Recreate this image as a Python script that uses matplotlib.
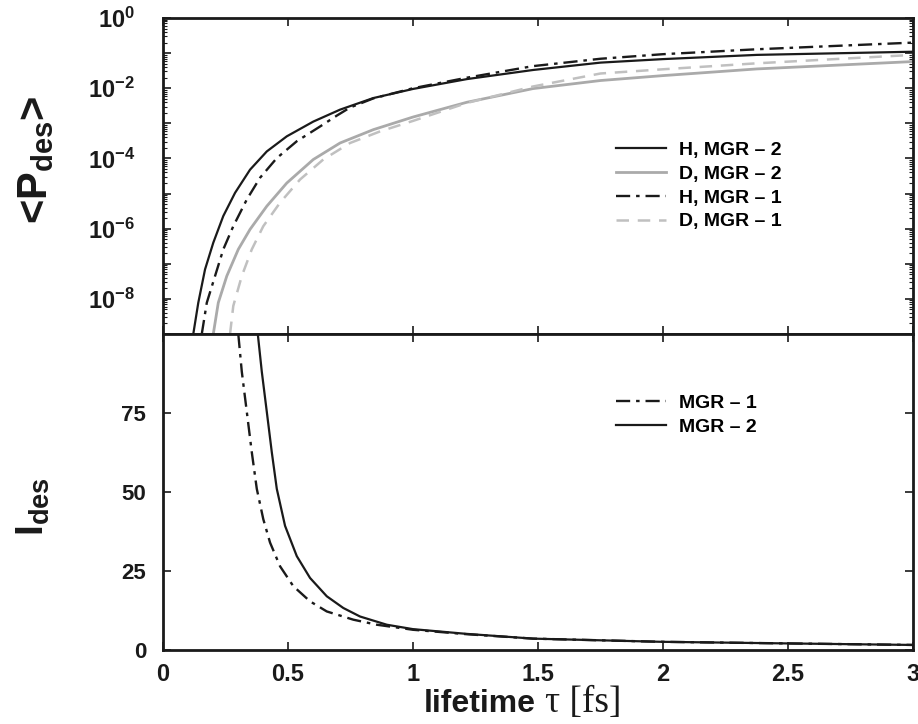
import numpy as np
import matplotlib.pyplot as plt
from matplotlib.ticker import FixedLocator, LogLocator, NullFormatter

plt.rcParams['font.family'] = ['Liberation Sans', 'DejaVu Sans']
plt.rcParams['mathtext.fontset'] = 'custom'
plt.rcParams['mathtext.rm'] = 'Liberation Sans'
plt.rcParams['mathtext.bf'] = 'Liberation Sans:bold'
plt.rcParams['mathtext.it'] = 'Liberation Sans:italic'

# top panel: <P_des> vs lifetime (log10 values)
tau_h2 = [0.121, 0.141, 0.168, 0.201, 0.241, 0.288, 0.348, 0.415, 0.495, 0.601, 0.708, 0.841,
          1.0, 1.215, 1.48, 1.75, 2.0, 2.375, 3.0]
logp_h2 = [-9.0, -8.11, -7.16, -6.40, -5.64, -4.98, -4.32, -3.80, -3.37, -2.95, -2.61, -2.28,
           -2.02, -1.74, -1.48, -1.27, -1.17, -1.05, -0.96]

tau_h1 = [0.155, 0.175, 0.208, 0.241, 0.281, 0.335, 0.388, 0.455, 0.535, 0.628, 0.695, 0.748, 0.841,
          1.0, 1.215, 1.48, 1.75, 2.0, 2.375, 3.0]
logp_h1 = [-9.0, -8.11, -7.35, -6.59, -5.93, -5.17, -4.55, -3.99, -3.51, -3.09, -2.78, -2.55, -2.29,
           -2.0, -1.70, -1.37, -1.16, -1.03, -0.89, -0.70]

tau_d2 = [0.201, 0.221, 0.255, 0.301, 0.348, 0.415, 0.495, 0.601, 0.708, 0.841,
          1.0, 1.215, 1.48, 1.75, 2.0, 2.375, 3.0]
logp_d2 = [-9.0, -8.11, -7.35, -6.59, -6.02, -5.36, -4.70, -4.03, -3.56, -3.18,
           -2.82, -2.40, -2.01, -1.78, -1.64, -1.45, -1.24]

tau_d1 = [0.268, 0.281, 0.315, 0.355, 0.401, 0.468, 0.548, 0.641, 0.748, 0.868,
          1.0, 1.215, 1.48, 1.75, 2.0, 2.375, 3.0]
logp_d1 = [-9.0, -8.2, -7.35, -6.59, -5.93, -5.26, -4.60, -4.03, -3.56, -3.23,
           -2.93, -2.42, -1.95, -1.58, -1.46, -1.29, -1.05]

# bottom panel: I_des vs lifetime
tau_i1 = [0.301, 0.315, 0.335, 0.355, 0.375, 0.401, 0.428, 0.468, 0.521, 0.588, 0.655, 0.761, 0.855,
          1.0, 1.215, 1.48, 1.99, 2.48, 3.0]
ides_1 = [100.0, 88.1, 75.4, 62.6, 51.0, 41.4, 34.0, 26.5, 20.2, 15.4, 12.2, 9.6, 8.0,
          6.4, 5.0, 3.6, 2.6, 2.1, 1.6]

tau_i2 = [0.379, 0.395, 0.415, 0.435, 0.455, 0.488, 0.535, 0.588, 0.655, 0.721, 0.788, 0.895,
          1.0, 1.215, 1.48, 1.99, 2.48, 3.0]
ides_2 = [100.0, 88.1, 75.4, 62.6, 51.0, 39.3, 29.7, 22.8, 17.0, 13.3, 10.6, 8.0,
          6.6, 5.1, 3.6, 2.6, 2.1, 1.6]

xticks = [0, 0.5, 1, 1.5, 2, 2.5, 3]
xticklabels = ['0', '0.5', '1', '1.5', '2', '2.5', '3']
iticks = [0, 25, 50, 75]

fig = plt.figure(figsize=(9.18, 7.24), dpi=100)
ax1 = fig.add_axes([0.1776, 0.5387, 0.817, 0.4364])
ax2 = fig.add_axes([0.1776, 0.1022, 0.817, 0.4365])

dark = '#1a1a1a'
gray = '#aaaaaa'
lgray = '#c0c0c0'
dashdot = (0, (6, 2.5, 1.5, 2.5))

ax1.plot(tau_h2, 10 ** np.array(logp_h2), color=dark, lw=1.6, label='H, MGR – 2')
ax1.plot(tau_d2, 10 ** np.array(logp_d2), color=gray, lw=2.0, label='D, MGR – 2')
ax1.plot(tau_h1, 10 ** np.array(logp_h1), color=dark, lw=1.7, linestyle=dashdot, label='H, MGR – 1')
ax1.plot(tau_d1, 10 ** np.array(logp_d1), color=lgray, lw=1.8,
         linestyle=(0, (5, 3.5)), label='D, MGR – 1')

ax1.set_yscale('log')
ax1.set_xlim(0, 3)
ax1.set_ylim(1e-9, 1)
ax1.yaxis.set_major_locator(FixedLocator([10.0 ** k for k in range(-9, 1)]))
ax1.yaxis.set_minor_locator(LogLocator(base=10, subs=np.arange(2, 10), numticks=20))
ax1.yaxis.set_minor_formatter(NullFormatter())
ax1.set_yticklabels(['' if k % 2 else r'$\mathbf{10^{%d}}$' % k for k in range(-9, 1)])

ax2.plot(tau_i1, ides_1, color=dark, lw=1.7, linestyle=dashdot, label='MGR – 1')
ax2.plot(tau_i2, ides_2, color=dark, lw=1.6, label='MGR – 2')
ax2.set_xlim(0, 3)
ax2.set_ylim(0, 100)
ax2.set_yticks(iticks)

for ax in (ax1, ax2):
    ax.set_xticks(xticks)
    ax.tick_params(which='both', direction='in', top=True, right=True,
                   width=1.2, colors=dark)
    ax.tick_params(which='major', length=6)
    ax.tick_params(which='minor', length=3, width=0.8)
    for s in ax.spines.values():
        s.set_linewidth(2)
        s.set_color(dark)

ax1.tick_params(axis='y', labelsize=17, pad=20)
ax2.tick_params(axis='y', labelsize=16, pad=12)
ax2.tick_params(axis='x', labelsize=17, pad=9)
ax1.set_xticklabels([])
ax2.set_xticklabels(xticklabels)
for lab in ax2.get_xticklabels() + ax2.get_yticklabels():
    lab.set_fontweight('bold')

leg_font = {'weight': 'bold', 'size': 14}
ax1.legend(loc='upper left', bbox_to_anchor=(0.58, 0.665), frameon=False,
           handlelength=2.6, labelspacing=0.32, handletextpad=0.65, prop=leg_font)
ax2.legend(loc='upper left', bbox_to_anchor=(0.58, 0.865), frameon=False,
           handlelength=2.6, labelspacing=0.32, handletextpad=0.65, prop=leg_font)

# axis titles placed in figure coordinates
fig.text(0.039, 0.779, r'<P$_{\mathbf{des}}$>', fontsize=30, fontweight='bold', color=dark,
         rotation=90, ha='center', va='center')
fig.text(0.036, 0.300, r'I$_{\mathbf{des}}$', fontsize=28, fontweight='bold', color=dark,
         rotation=90, ha='center', va='center')

fig.text(0.584, 0.016, 'lifetime', fontsize=23, fontweight='bold', color=dark,
         ha='right', va='baseline')
fig.text(0.594, 0.016, 'τ [fs]', fontsize=27, color=dark, ha='left', va='baseline',
         family=['Liberation Serif', 'DejaVu Serif'])

fig.savefig('out.png', dpi=100, facecolor='white')
